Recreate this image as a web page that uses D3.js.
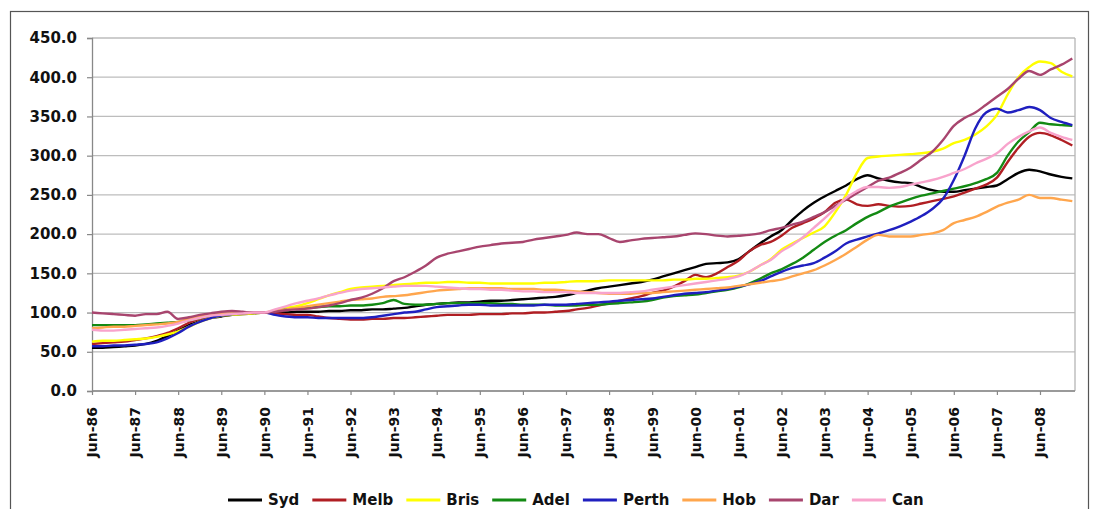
<!DOCTYPE html>
<html>
<head>
<meta charset="utf-8">
<script src="https://cdn.jsdelivr.net/npm/d3@7"></script>
<style>
  html, body { margin: 0; padding: 0; background: #fff; }
  svg { display: block; }
  text { font-family: "DejaVu Sans", Verdana, sans-serif; font-weight: bold; fill: #111; }
</style>
</head>
<body>
<svg id="chart" width="1093" height="509"></svg>
<script>
// Quarterly house price index by capital city, Jun-90 = 100.
// First value is Jun-86, then Sep, Dec, Mar, Jun ... through Mar-09.
const seriesNames = ["Syd", "Melb", "Bris", "Adel", "Perth", "Hob", "Dar", "Can"];
const seriesColors = ["#000000", "#b01e23", "#ffff00", "#138a13", "#1f1fbf", "#ffa64d", "#a8456e", "#f8a3cc"];

const tickLabels = ["Jun-86","Jun-87","Jun-88","Jun-89","Jun-90","Jun-91","Jun-92","Jun-93",
  "Jun-94","Jun-95","Jun-96","Jun-97","Jun-98","Jun-99","Jun-00","Jun-01","Jun-02","Jun-03",
  "Jun-04","Jun-05","Jun-06","Jun-07","Jun-08"];

const yTicks = [0, 50, 100, 150, 200, 250, 300, 350, 400, 450];

const syd = [
  55, 55, 56, 57,  58, 60, 64, 70,  77, 84, 89, 93,  95, 97, 98, 99,
  100, 100, 100, 101,  101, 101, 102, 102,  103, 103, 104, 104,  105, 106, 108, 110,
  111, 112, 113, 113,  114, 115, 115, 116,  117, 118, 119, 120,  122, 125, 128, 131,
  133, 135, 137, 139,  142, 146, 150, 154,  158, 162, 163, 164,  168, 178, 188, 197,
  205, 218, 230, 240,  248, 255, 262, 270,  275, 271, 268, 266,  265, 260, 256, 254,
  254, 256, 258, 260,  262, 270, 278, 282,  280, 276, 273, 271
];
const melb = [
  60, 61, 62, 63,  65, 67, 70, 74,  80, 87, 92, 95,  97, 98, 99, 100,
  100, 99, 98, 97,  97, 95, 93, 92,  91, 91, 92, 92,  93, 93, 94, 95,
  96, 97, 97, 97,  98, 98, 98, 99,  99, 100, 100, 101,  102, 104, 106, 109,
  112, 115, 118, 121,  125, 128, 133, 140,  148, 145, 150, 158,  166, 178, 186, 190,
  198, 208, 214, 220,  228, 240, 244, 238,  236, 238, 236, 235,  236, 239, 242, 245,
  248, 253, 258, 263,  272, 292, 310, 324,  329, 326, 320, 313
];
const bris = [
  63, 64, 64, 65,  66, 67, 69, 72,  76, 82, 88, 93,  96, 97, 98, 99,
  100, 103, 106, 108,  112, 117, 122, 126,  130, 132, 133, 134,  135, 136, 137, 138,
  138, 139, 139, 138,  138, 137, 137, 137,  137, 137, 138, 138,  139, 140, 140, 140,
  141, 141, 141, 141,  141, 141, 142, 142,  143, 143, 144, 145,  147, 152, 160, 168,
  180, 188, 195, 202,  210, 228, 250, 278,  297, 299, 300, 301,  302, 303, 305, 309,
  316, 320, 327, 337,  352, 378, 400, 413,  420, 418, 407, 401
];
const adel = [
  84, 84, 84, 84,  84, 85, 86, 87,  88, 90, 93, 96,  97, 98, 99, 100,
  100, 102, 104, 105,  106, 107, 108, 108,  109, 109, 110, 112,  116, 111, 110, 110,
  111, 112, 112, 112,  112, 112, 111, 111,  110, 110, 110, 109,  109, 109, 110, 110,
  111, 112, 113, 114,  116, 119, 121, 122,  123, 125, 127, 129,  132, 137, 143, 150,
  155, 162, 170, 180,  190, 198, 205, 214,  222, 228, 235, 240,  245, 249, 252, 255,
  258, 261, 265, 270,  278, 300, 318, 330,  342, 340, 339, 338
];
const perth = [
  57, 57, 58, 58,  59, 60, 62, 67,  74, 82, 88, 93,  96, 98, 99, 100,
  100, 97, 95, 94,  94, 93, 93, 93,  93, 93, 94, 96,  98, 100, 101, 104,
  107, 108, 109, 110,  110, 109, 109, 109,  109, 109, 110, 110,  110, 111, 112, 113,
  114, 115, 116, 117,  118, 120, 122, 124,  125, 126, 128, 130,  133, 136, 140, 146,
  152, 157, 160, 163,  170, 178, 188, 193,  197, 201, 205, 210,  216, 223, 232, 245,
  269, 300, 335, 355,  360, 355, 358, 362,  358, 348, 343, 339
];
const hob = [
  80, 81, 82, 82,  83, 84, 85, 86,  88, 92, 95, 97,  98, 99, 99, 100,
  100, 102, 104, 106,  108, 110, 112, 114,  116, 117, 118, 120,  121, 122, 124, 126,
  128, 129, 130, 131,  131, 131, 131, 130,  130, 130, 129, 129,  128, 127, 126, 125,
  124, 124, 124, 125,  125, 126, 127, 128,  129, 130, 131, 132,  134, 136, 138, 140,
  142, 146, 150, 154,  160, 167, 175, 184,  193, 199, 197, 197,  197, 199, 201, 205,
  214, 218, 222, 228,  235, 240, 244, 250,  246, 246, 244, 242
];
const dar = [
  100, 99, 98, 97,  96, 98, 98, 101,  92, 94, 97, 99,  101, 102, 101, 100,
  100, 101, 103, 104,  105, 107, 109, 112,  116, 119, 124, 131,  140, 145, 152, 160,
  170, 175, 178, 181,  184, 186, 188, 189,  190, 193, 195, 197,  199, 202, 200, 200,
  195, 190, 192, 194,  195, 196, 197, 199,  201, 200, 198, 197,  198, 199, 201, 205,
  208, 212, 216, 222,  228, 236, 244, 252,  260, 268, 272, 278,  285, 295, 305, 320,
  338, 348, 355, 365,  375, 385, 398, 408,  403, 410, 416, 424
];
const can = [
  78, 77, 77, 78,  79, 80, 81, 83,  86, 90, 93, 96,  97, 98, 99, 100,
  100, 104, 108, 112,  115, 118, 122, 125,  128, 130, 131, 132,  133, 134, 134, 134,
  133, 132, 131, 130,  130, 129, 129, 128,  127, 127, 126, 126,  126, 125, 125, 125,
  125, 125, 126, 127,  129, 131, 133, 135,  137, 139, 141, 143,  146, 152, 160, 167,
  178, 186, 196, 208,  220, 233, 246, 255,  260, 260, 259, 260,  263, 266, 269, 273,
  278, 283, 290, 296,  303, 315, 324, 331,  336, 329, 324, 320
];

const seriesValues = [syd, melb, bris, adel, perth, hob, dar, can];

const svg = d3.select("#chart");

// Outer frame around the whole chart object
svg.append("rect")
  .attr("x", 10.5).attr("y", 11.5)
  .attr("width", 1078).attr("height", 520)
  .attr("fill", "#fff").attr("stroke", "#555").attr("stroke-width", 1.2);

const plot = { left: 92, right: 1075, top: 38, bottom: 391 };

// Quarter index on x: 0 = Jun-86, 4 quarters per year
const x = d3.scaleLinear().domain([0, 91.25]).range([plot.left, plot.right]);
const y = d3.scaleLinear().domain([0, 450]).range([plot.bottom, plot.top]);

// Horizontal gridlines
svg.append("g")
  .selectAll("line")
  .data(yTicks)
  .join("line")
  .attr("x1", plot.left).attr("x2", plot.right)
  .attr("y1", d => y(d)).attr("y2", d => y(d))
  .attr("stroke", "#bdbdbd").attr("stroke-width", 1.3);

// Right border of plot area
svg.append("line")
  .attr("x1", plot.right).attr("x2", plot.right)
  .attr("y1", plot.top).attr("y2", plot.bottom)
  .attr("stroke", "#b5b5b5").attr("stroke-width", 1.3);

// Y axis
const yAxis = d3.axisLeft(y)
  .tickValues(yTicks)
  .tickFormat(d3.format(".1f"))
  .tickSize(5)
  .tickPadding(10);
const gy = svg.append("g").attr("transform", `translate(${plot.left},0)`).call(yAxis);
gy.select(".domain").attr("stroke", "#888").attr("stroke-width", 1.3);
gy.selectAll(".tick line").attr("stroke", "#888").attr("stroke-width", 1.2);
gy.selectAll(".tick text")
  .attr("font-size", 15)
  .attr("font-family", "DejaVu Sans, sans-serif")
  .attr("font-weight", "bold")
  .attr("fill", "#111");

// X axis: one tick each June
const tickIdx = tickLabels.map((_, i) => i * 4);
const xAxis = d3.axisBottom(x)
  .tickValues(tickIdx)
  .tickFormat((d, i) => tickLabels[i])
  .tickSize(4)
  .tickSizeOuter(0);
const gx = svg.append("g").attr("transform", `translate(0,${plot.bottom})`).call(xAxis);
gx.select(".domain").attr("stroke", "#888").attr("stroke-width", 1.3)
  .attr("d", `M${plot.left},0H${plot.right}`);
gx.selectAll(".tick line").attr("stroke", "#888").attr("stroke-width", 1.2);
gx.selectAll(".tick text")
  .attr("font-size", 14)
  .attr("font-family", "DejaVu Sans, sans-serif")
  .attr("font-weight", "bold")
  .attr("fill", "#111")
  .attr("text-anchor", "end")
  .attr("transform", "translate(0,16) rotate(-90)")
  .attr("x", 0).attr("y", 0)
  .attr("dy", "0.35em");

// Series lines
const line = d3.line()
  .x((d, i) => x(i))
  .y(d => y(d))
  .curve(d3.curveMonotoneX);

svg.append("g")
  .selectAll("path")
  .data(seriesValues)
  .join("path")
  .attr("d", d => line(d))
  .attr("fill", "none")
  .attr("stroke", (d, i) => seriesColors[i])
  .attr("stroke-width", 2.4)
  .attr("stroke-linejoin", "round");

// Legend along the bottom
const legend = svg.append("g").attr("transform", "translate(0,500)");
let lx = 228;
seriesNames.forEach((name, i) => {
  legend.append("line")
    .attr("x1", lx).attr("x2", lx + 34)
    .attr("y1", 0).attr("y2", 0)
    .attr("stroke", seriesColors[i]).attr("stroke-width", 3);
  const t = legend.append("text")
    .attr("x", lx + 40).attr("y", 0).attr("dy", "0.36em")
    .attr("font-size", 15)
    .text(name);
  lx += 40 + t.node().getComputedTextLength() + 13;
});
</script>
</body>
</html>
